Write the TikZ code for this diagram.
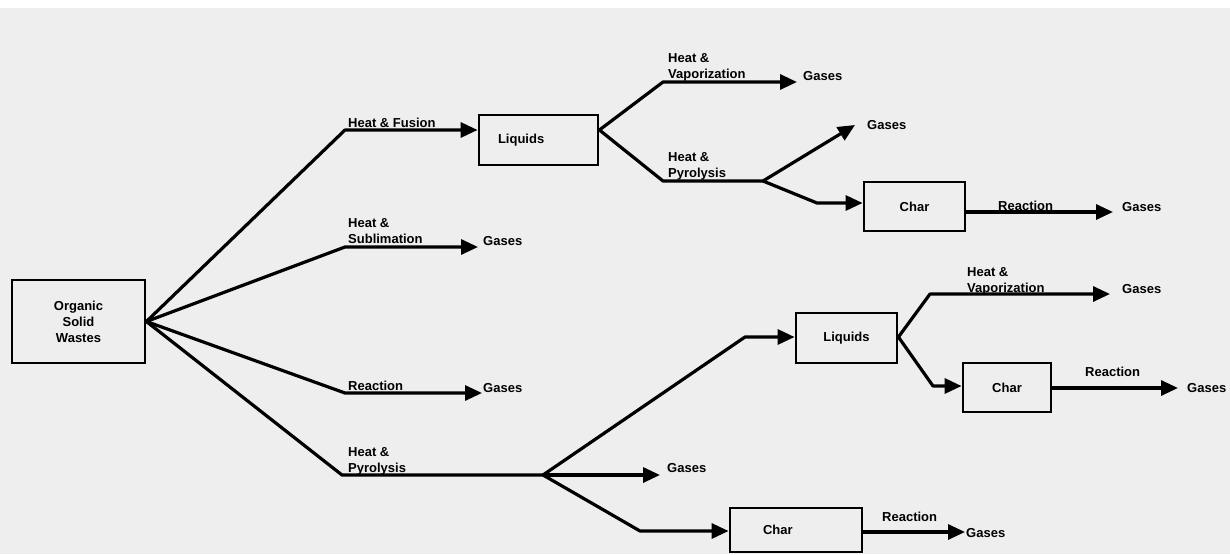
\documentclass[tikz,border=0pt]{standalone}
\usepackage{fontspec}
\setmainfont{Liberation Sans}
\usetikzlibrary{arrows.meta}
\definecolor{paper}{RGB}{238,238,238}
\begin{document}
\begin{tikzpicture}[x=1pt,y=-1pt,
  txt/.style={font=\fontsize{13}{16}\selectfont\bfseries},
  box/.style={draw, line width=2.8pt, rectangle, inner sep=0pt, txt},
  lbl/.style={anchor=base west, inner sep=0pt, align=left, txt},
  gas/.style={anchor=west, inner sep=0pt, txt},
  ln/.style={line width=3.2pt, line join=round},
  arr/.style={ln, -{Triangle[length=17pt,width=15pt]}}]
\useasboundingbox (0,0) rectangle (1230,554);
\fill[paper] (0,8) rectangle (1230,554);

% boxes
\node[box, minimum width=133pt, minimum height=83pt, align=center] (osw) at (78.5,321.5) {Organic\\Solid\\Wastes};
\node[box, minimum width=119pt, minimum height=50pt, inner xsep=19pt, text width=81pt, align=left] (liq1) at (538.5,140) {Liquids};
\node[box, minimum width=101pt, minimum height=49pt] (char1) at (914.5,206.5) {Char};
\node[box, minimum width=101pt, minimum height=50pt] (liq2) at (846.5,338) {Liquids};
\node[box, minimum width=88pt, minimum height=49pt] (char2) at (1007,387.5) {Char};
\node[box, minimum width=132pt, minimum height=44pt, inner xsep=33pt, text width=66pt, align=left] (char3) at (796,530) {Char};

% gases
\node[gas] (gA) at (803,76) {Gases};
\node[gas] (gB) at (867,125) {Gases};
\node[gas] (gC) at (1122,207) {Gases};
\node[gas] (gD) at (483,241) {Gases};
\node[gas] (gE) at (483,388) {Gases};
\node[gas] (gF) at (1122,289) {Gases};
\node[gas] (gG) at (1187,388) {Gases};
\node[gas] (gH) at (667,468) {Gases};
\node[gas] (gI) at (966,533) {Gases};

% junction coordinates
\coordinate (b1) at (345,130);
\coordinate (b2) at (345,247);
\coordinate (b3) at (345,393);
\coordinate (b4) at (342,475);
\coordinate (j)  at (543,475);
\coordinate (v1) at (663,82);
\coordinate (p1) at (663,181);
\coordinate (p2) at (763,181);
\coordinate (c1) at (817,203);
\coordinate (q1) at (745,337);
\coordinate (v2) at (930,294);
\coordinate (d2) at (933,386);
\coordinate (d3) at (640,531);
% arrow tips
\coordinate (tA) at (797,82);
\coordinate (tB) at (855,125);
\coordinate (tC) at (1113,212);
\coordinate (tD) at (478,247);
\coordinate (tE) at (482,393);
\coordinate (tF) at (1110,294);
\coordinate (tG) at (1178,388);
\coordinate (tH) at (660,475);
\coordinate (tI) at (965,532);

% connectors from the source
\draw[arr] (osw.east) -- (b1) -- (liq1.west |- b1);
\draw[arr] (osw.east) -- (b2) -- (tD);
\draw[arr] (osw.east) -- (b3) -- (tE);
\draw[ln] (osw.east) -- (b4) -- (j);

% upper liquids
\draw[arr] (liq1.east |- b1) -- (v1) -- (tA);
\draw[ln] (liq1.east |- b1) -- (p1) -- (p2);
\draw[arr] (p2) -- (tB);
\draw[arr] (p2) -- (c1) -- (char1.west |- c1);
\draw[arr] (char1.east |- tC) -- (tC);

% lower pyrolysis
\draw[arr] (j) -- (q1) -- (liq2.west |- q1);
\draw[arr] (j) -- (tH);
\draw[arr] (j) -- (d3) -- (char3.west |- d3);
\draw[arr] (char3.east |- tI) -- (tI);
\draw[arr] (liq2.east |- q1) -- (v2) -- (tF);
\draw[arr] (liq2.east |- q1) -- (d2) -- (char2.west |- d2);
\draw[arr] (char2.east |- tG) -- (tG);

% labels (base = baseline of the last line)
\node[lbl] (l1) at (348,127) {Heat \& Fusion};
\node[lbl] (l2) at (668,78) {Heat \&\\Vaporization};
\node[lbl] (l3) at (668,177) {Heat \&\\Pyrolysis};
\node[lbl] (l4) at (348,243) {Heat \&\\Sublimation};
\node[lbl] (l5) at (348,390) {Reaction};
\node[lbl] (l6) at (348,472) {Heat \&\\Pyrolysis};
\node[lbl] (l7) at (998,210) {Reaction};
\node[lbl] (l8) at (967,292) {Heat \&\\Vaporization};
\node[lbl] (l9) at (1085,376) {Reaction};
\node[lbl] (l10) at (882,521) {Reaction};
\end{tikzpicture}
\end{document}
